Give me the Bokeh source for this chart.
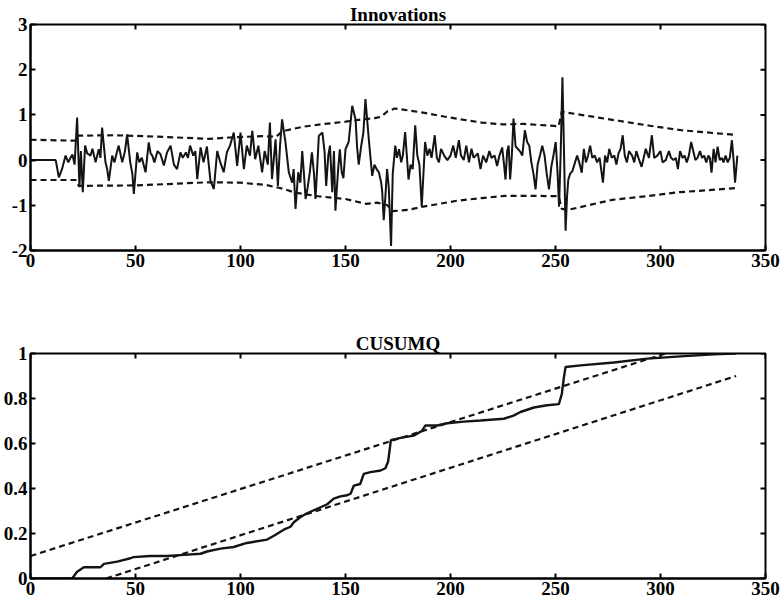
from bokeh.plotting import figure
from bokeh.layouts import column
from bokeh.models import Range1d, FixedTicker
from bokeh.embed import file_html
from bokeh.resources import INLINE

# ---------------- data ----------------
X_TICKS = [0, 50, 100, 150, 200, 250, 300, 350]
X_LABELS = ["0", "50", "100", "150", "200", "250", "300", "350"]
INNOV_Y_TICKS = [-2, -1, 0, 1, 2, 3]
INNOV_Y_LABELS = ["-2", "-1", "0", "1", "2", "3"]
CUSUM_Y_TICKS = [0, 0.2, 0.4, 0.6, 0.8, 1]
CUSUM_Y_LABELS = ["0", "0.2", "0.4", "0.6", "0.8", "1"]

innov_x = [0, 12, 13.5, 15, 16.7, 18, 19, 20, 21, 22.2, 23.3, 24, 24.9, 26, 27, 28.6, 29.5, 31, 32.5, 33.3,
           34.1, 35.7, 36.5, 37.3, 38.9, 40, 41, 42, 43, 43.7, 45, 46, 47.5, 48.5, 49.2, 50.8, 51.8, 53, 54.8,
           56.3, 57.2, 58, 59, 60.5, 61.9, 63.5, 65, 66.7, 68.3, 69.8, 71.4, 72.5, 74, 75, 76, 77.5, 78.5, 79.4,
           81, 82.4, 84, 85.7, 87.3, 88.9, 90.4, 92, 93.5, 95, 96.8, 98.4, 100, 101.6, 103, 104.5, 105.6, 107,
           108.5, 110.3, 111.5, 113, 114, 115, 116.7, 117.8, 118.8, 119.8, 121.4, 123, 124.6, 125.3, 126.2,
           127.5, 128.5, 129.4, 130.2, 131, 132, 133, 134, 135, 135.7, 136.5, 137.3, 139, 140, 140.8, 141.8,
           142.6, 143.7, 144.5, 145.2, 146.5, 147.3, 148.2, 149, 150, 151.5, 153.2, 154.8, 155.5, 156.3, 157.5,
           158.5, 159.5, 160.3, 161.1, 162.7, 163.8, 164.8, 165.9, 167, 167.5, 168.2, 169, 169.8, 170.6, 171.7,
           172.5, 173.7, 174.5, 175.5, 176.5, 177.3, 178.4, 179.2, 180, 181, 182, 183.2, 184.2, 185.2, 186.3,
           187.9, 189, 190, 191, 192.5, 193.5, 194.5, 195.5, 197, 198.5, 200, 201.3, 202.5, 204, 205, 206.3,
           207.5, 208.8, 210, 211, 212, 213, 214.3, 215.5, 217, 218.5, 219.5, 221, 222.2, 223.3, 224.6, 225.5,
           226.2, 227, 227.7, 228.4, 229.2, 230, 231, 232, 233, 234.2, 235.4, 236.5, 237.5, 238.5, 239.5, 240.5,
           241.5, 242.6, 243.7, 244.8, 245.8, 246.9, 248, 249, 250.1, 251, 251.7, 252.5, 253.3, 254, 254.8,
           255.5, 256.1, 257, 258, 259.3, 260.3, 261.3, 262.5, 263.5, 264.5, 265.5, 266.5, 267.5, 268.7, 269.8,
           271, 272.6, 273.6, 274.6, 275.6, 276.8, 278, 279, 280, 281, 282, 283, 284, 285, 286.5, 287.5, 288.5,
           289.5, 291, 292, 293, 294.5, 295.9, 297, 298.5, 300, 301, 302.5, 304, 305, 306.2, 307.3, 308.3, 309.3,
           310.5, 311.5, 312.5, 313.5, 314.6, 315.6, 316.6, 317.6, 318.8, 319.8, 320.8, 321.8, 322.8, 323.5,
           324.3, 325.3, 326.2, 327.2, 328.2, 329.2, 330, 331, 332, 333, 334, 334.8, 335.5, 336.6]
innov_y = [0, 0, -0.38, -0.2, 0.1, -0.05, 0.05, 0.12, -0.1, 0.94, -0.6, 0.2, -0.71, 0.32, 0.15, 0.1, 0.25, -0.05, 0.24, 0.05,
           0.72, -0.05, -0.2, -0.46, 0.1, -0.05, 0.15, 0.32, 0.1, -0.05, 0.2, 0.57, -0.05, -0.3, -0.75, 0.17, -0.05, 0.05, -0.27,
           0.39, 0.15, 0.1, -0.05, 0.2, 0.13, -0.12, 0.17, 0.32, -0.1, -0.2, 0.17, 0.05, 0.17, 0.05, 0.32, 0.1, 0.2, -0.42,
           0.28, -0.05, 0.3, -0.46, -0.64, 0.2, -0.05, -0.27, 0.17, 0.32, 0.61, -0.13, 0.61, -0.2, 0.32, 0.1, 0.65, 0.02,
           0.32, -0.27, 0.2, -0.1, 0.83, -0.42, 0.46, -0.57, 0.3, 0.9, 0.4, -0.27, -0.5, -0.2, -1.08,
           -0.27, -0.5, 0.2, -0.3, -0.86, -0.6, -0.27, 0.17, -0.3, -0.86, -0.2, 0.54, 0.61, 0.2, -0.57, 0.1,
           0.32, -0.71, 0.2, -1.12, -0.2, 0.24, -0.27, -0.4, 0.24, 0.4, 1.2, 0.9, 0.3, -0.1, 0.32,
           0.6, 1.35, 0.9, 0.46, -0.35, -0.1, -0.2, -0.27, -0.5, -0.71, -1.33, -0.8, -0.2, -0.6, -1.9,
           -0.3, 0.32, 0.05, 0.24, -0.05, 0.1, 0.62, 0.1, -0.43, -0.1, -0.2, 0.77, 0.1, -0.1, -1.03,
           0.4, 0.1, 0.25, 0.05, 0.55, 0.05, -0.05, 0.25, 0.1, 0.0, 0.1, 0.32, 0.05, 0.44, 0.1, 0.0,
           0.32, -0.05, 0.25, 0.05, 0.1, 0.15, -0.2, 0.1, -0.05, 0.2, 0.05, 0.1, -0.13, 0.1, 0.28, -0.1,
           -0.43, 0.2, 0.32, -0.43, 0.1, 0.92, 0.3, 0.25, 0.2, 0.1, 0.66, 0.4, 0.32, -0.05, -0.3, -0.65,
           -0.1, 0.1, 0.32, 0.1, -0.3, -0.65, -0.15, 0.1, 0.4, -0.3, -1.03, 0.2, 1.83, 0.3, -1.56,
           -0.8, -0.43, -0.3, -0.25, -0.05, 0.1, -0.05, -0.28, 0.25, -0.05, 0.1, 0.32, 0.05, 0.1, -0.05,
           0.05, -0.5, 0.1, -0.05, 0.25, 0.05, 0.1, -0.1, 0.15, 0.25, 0.55, 0.1, -0.05, 0.2, 0.1, -0.05, 0.2,
           0.05, -0.15, 0.05, 0.25, 0.05, 0.55, 0.05, 0.1, 0.2, -0.05, 0.0, 0.2, 0.05, 0.0, 0.05, -0.2, 0.2,
           0.05, 0.1, -0.05, 0.1, 0.4, 0.2, 0.0, 0.05, 0.2, 0.05, 0.1, -0.05, 0.1, 0.05,
           -0.28, 0.25, -0.05, 0.3, 0.0, 0.05, -0.05, 0.1, -0.05, 0.05, 0.44, 0.0, -0.5, 0.1]

band_up_x = [0, 21.5, 22.5, 40, 60, 85, 95, 110, 117, 119.5, 122, 130, 140, 150, 158, 164, 167, 170, 173.5,
             180, 187, 195, 205, 215, 225, 235, 251.5, 253, 265, 280, 295, 310, 325, 336]
band_up_y = [0.45, 0.43, 0.54, 0.55, 0.52, 0.47, 0.5, 0.53, 0.52, 0.62, 0.66, 0.74, 0.8, 0.85, 0.9, 0.93, 0.96,
             1.08, 1.14, 1.1, 1.05, 0.98, 0.9, 0.83, 0.79, 0.8, 0.75, 1.07, 0.98, 0.87, 0.76, 0.66, 0.6, 0.56]
band_lo_x = [0, 21.5, 23, 50, 70, 85, 100, 112, 117, 120, 126, 137, 150, 160, 165, 170, 172.5, 180, 187, 203,
             215, 226, 240, 251.5, 253, 256, 277, 293, 309, 336]
band_lo_y = [-0.44, -0.44, -0.57, -0.56, -0.52, -0.49, -0.5, -0.55, -0.6, -0.63, -0.72, -0.8, -0.86, -0.97,
             -0.94, -1.0, -1.13, -1.1, -1.03, -0.9, -0.84, -0.79, -0.79, -0.8, -1.08, -1.1, -0.88, -0.8, -0.71, -0.62]

cusumq_x = [0, 19.8, 22.2, 25.4, 33.3, 35, 41.3, 47.6, 49, 57, 65, 73, 81, 84, 90.5, 96.8, 103, 112.7, 115.9,
            120.6, 123.8, 125.4, 128.6, 131.7, 136.5, 141.3, 144.4, 147.6, 150.8, 152.4, 154, 157, 158.7, 161.9,
            166.7, 169, 170.3, 171, 171.6, 176.2, 182.5, 186.5, 188, 193.7, 198.4, 206.3, 214.3, 225.4, 230,
            233.3, 239.7, 246, 251.6, 253, 254, 254.8, 262, 277.8, 293.7, 309.5, 325.4, 336]
cusumq_y = [0, 0, 0.03, 0.05, 0.05, 0.065, 0.075, 0.09, 0.095, 0.1, 0.1, 0.105, 0.11, 0.12, 0.133, 0.14, 0.158,
            0.173, 0.19, 0.217, 0.23, 0.25, 0.273, 0.29, 0.31, 0.33, 0.355, 0.365, 0.37, 0.377, 0.413, 0.42,
            0.465, 0.473, 0.48, 0.49, 0.52, 0.57, 0.615, 0.625, 0.635, 0.657, 0.68, 0.68, 0.69, 0.697, 0.702,
            0.71, 0.724, 0.74, 0.76, 0.77, 0.775, 0.82, 0.894, 0.94, 0.947, 0.96, 0.977, 0.987, 0.996, 1.0]
cusumq_up_x = [0, 336]
cusumq_up_y = [0.1, 1.1]
cusumq_lo_x = [36, 336]
cusumq_lo_y = [0, 0.9]

# ---------------- style ----------------
FONT = "Liberation Serif"
FS = "19px"
INK = "#141414"
X_MIN, X_MAX = 0, 350


def make_fig(yr, yticks, ylabels, title, top, bottom, fh):
    p = figure(frame_width=735, frame_height=fh, x_range=Range1d(X_MIN, X_MAX), y_range=Range1d(*yr),
               output_backend="svg", toolbar_location=None,
               min_border_left=30, min_border_right=16, min_border_top=top, min_border_bottom=bottom,
               background_fill_color="white", border_fill_color="white")
    p.grid.visible = False
    p.outline_line_color = "black"
    p.outline_line_width = 2

    p.title.text = title
    p.title.align = "center"
    p.title.text_font = FONT
    p.title.text_font_style = "bold"
    p.title.text_font_size = FS
    p.title.text_color = "black"
    p.title.standoff = 0

    xa = p.xaxis[0]
    xa.ticker = FixedTicker(ticks=X_TICKS)
    xa.major_label_overrides = dict(zip(X_TICKS, X_LABELS))
    ya = p.yaxis[0]
    ya.ticker = FixedTicker(ticks=yticks)
    ya.major_label_overrides = dict(zip(yticks, ylabels))

    for ax in [xa, ya]:
        ax.major_label_text_font = FONT
        ax.major_label_text_font_style = "bold"
        ax.major_label_text_font_size = FS
        ax.major_label_text_color = "black"
        ax.major_label_standoff = 3
        ax.major_tick_in = 5
        ax.major_tick_out = 0
        ax.minor_tick_in = 0
        ax.minor_tick_out = 0
        ax.axis_line_width = 2
        ax.axis_line_color = "black"
        ax.major_tick_line_width = 2
        ax.major_tick_line_color = "black"

    # inner tick marks on the top and right edges (half of each dash is clipped by the frame)
    p.scatter(X_TICKS, [yr[1]] * len(X_TICKS), marker="dash", angle=1.5708, size=10,
              line_color="black", line_width=2)
    p.scatter([X_MAX] * len(yticks), yticks, marker="dash", size=10,
              line_color="black", line_width=2)
    return p


p1 = make_fig((-2, 3), INNOV_Y_TICKS, INNOV_Y_LABELS, "Innovations", 24, 48, 226)
p1.line(band_up_x, band_up_y, line_color=INK, line_width=2.2, line_dash="6 4")
p1.line(band_lo_x, band_lo_y, line_color=INK, line_width=2.2, line_dash="6 4")
p1.line(innov_x, innov_y, line_color=INK, line_width=2)

p2 = make_fig((0, 1), CUSUM_Y_TICKS, CUSUM_Y_LABELS, "CUSUMQ", 55, 28, 225)
p2.line(cusumq_up_x, cusumq_up_y, line_color=INK, line_width=2.2, line_dash="6 4")
p2.line(cusumq_lo_x, cusumq_lo_y, line_color=INK, line_width=2.2, line_dash="6 4")
p2.line(cusumq_x, cusumq_y, line_color=INK, line_width=2.4)

layout = column(p1, p2, spacing=0)
open("out.html", "w").write(file_html(layout, INLINE))
